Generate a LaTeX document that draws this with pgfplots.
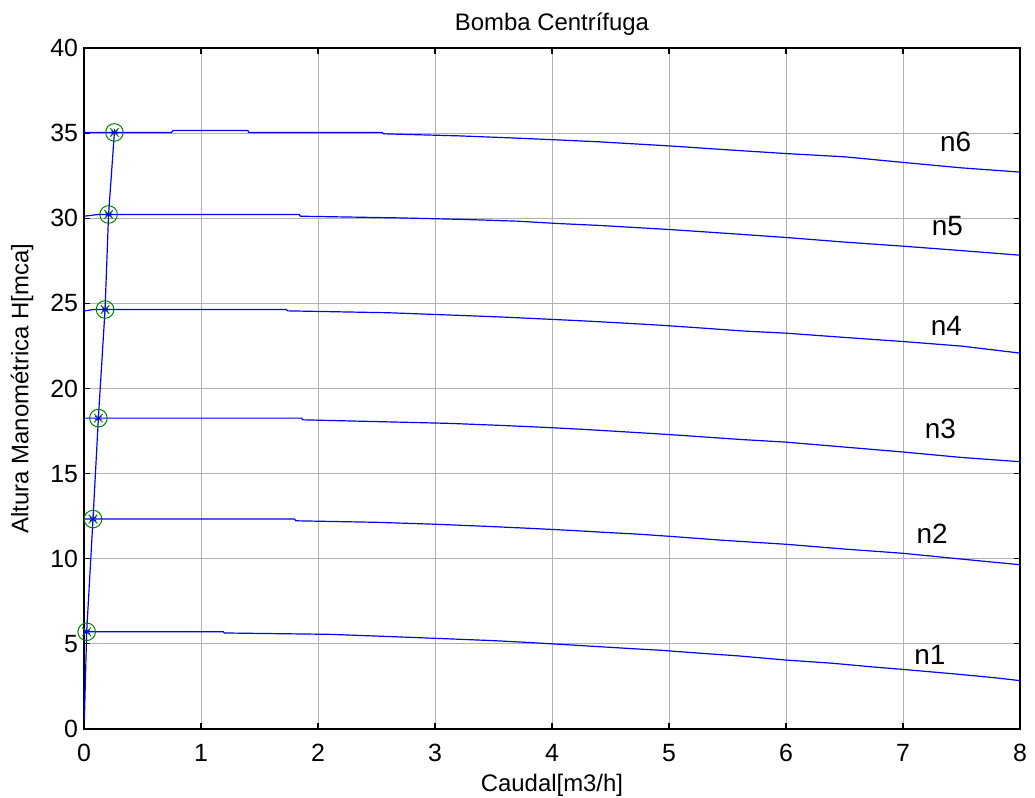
\documentclass[border=0pt]{standalone}
\usepackage{pgfplots}
\pgfplotsset{compat=1.18}
\usepackage{fontspec}
\setmainfont{Liberation Sans}

\definecolor{mgreen}{rgb}{0,0.5,0}

\begin{document}
\begin{tikzpicture}
\useasboundingbox (-42bp,-34.5bp) rectangle (475.5bp,364.5bp);
\begin{axis}[
    at={(0,0)}, anchor=south west,
    scale only axis,
    width=468bp, height=340.5bp,
    xmin=0, xmax=8, ymin=0, ymax=40,
    xtick={0,...,8}, ytick={0,5,...,40},
    grid=major,
    major grid style={gray!60, line width=0.4pt},
    axis line style={black, line width=0.7pt},
    tick align=inside,
    major tick length=3bp,
    tick style={black, line width=0.6pt},
    font=\fontsize{12}{14}\selectfont,
    /pgf/number format/assume math mode=true,
    ticklabel style={font=\fontsize{12.5}{14}\selectfont},
    xticklabel style={yshift=-4bp},
    yticklabel style={xshift=0.5bp},
    xlabel={Caudal[m3/h]},
    xlabel style={at={(axis description cs:0.5,-0.0822)}, anchor=center},
    ylabel={Altura Manométrica H[mca]},
    ylabel style={at={(axis description cs:-0.0662,0.5)}, anchor=center},
]

% n1
\addplot[blue, line width=0.6pt] coordinates {
(0,5.71) (1.19,5.71) (1.2,5.64) (2.1,5.56) (2.65,5.42) (3.1,5.30) (3.5,5.19)
(3.83,5.07) (4.13,4.95) (4.68,4.72) (4.94,4.62) (5.17,4.50) (5.6,4.29)
(6.0,4.05) (6.4,3.86) (6.75,3.64) (7.0,3.50) (7.45,3.23) (7.8,3.00) (8.0,2.84)};

% n2
\addplot[blue, line width=0.6pt] coordinates {
(0,12.33) (1.8,12.33) (1.81,12.23) (2.5,12.14) (3.03,12.02) (3.45,11.90)
(3.8,11.79) (4.15,11.67) (4.45,11.55) (4.75,11.44) (5.0,11.32) (5.47,11.08)
(6.0,10.85) (6.5,10.57) (7.0,10.32) (7.5,9.98) (8.0,9.65)};

% n3
\addplot[blue, line width=0.6pt] coordinates {
(0,18.26) (1.86,18.26) (1.87,18.16) (2.6,18.04) (3.13,17.95) (3.57,17.83)
(3.93,17.72) (4.27,17.60) (4.85,17.36) (5.1,17.25) (5.6,17.01) (6.0,16.85)
(6.5,16.56) (7.0,16.27) (7.5,15.95) (8.0,15.70)};

% n4
\addplot[blue, line width=0.6pt] coordinates {
(0,24.55) (0.08,24.64) (1.73,24.64) (1.74,24.56) (2.6,24.45) (3.15,24.31)
(3.6,24.19) (3.97,24.07) (4.3,23.96) (4.62,23.84) (4.92,23.72) (5.18,23.60)
(5.65,23.37) (6.0,23.25) (6.5,23.00) (7.0,22.76) (7.5,22.49) (8.0,22.08)};

% n5
\addplot[blue, line width=0.6pt] coordinates {
(0,30.12) (0.12,30.22) (1.84,30.22) (1.85,30.12) (2.7,30.02) (3.25,29.93)
(3.7,29.83) (4.05,29.69) (4.4,29.58) (4.7,29.46) (5.0,29.34) (5.5,29.11)
(6.0,28.87) (6.5,28.60) (7.0,28.36) (7.5,28.10) (8.0,27.83)};

% n6
\addplot[blue, line width=0.6pt] coordinates {
(0,35.04) (0.75,35.04) (0.76,35.15) (1.4,35.15) (1.41,35.04) (2.55,35.04)
(2.56,34.96) (3.2,34.84) (3.65,34.72) (4.05,34.60) (4.4,34.49) (5.0,34.25)
(5.5,34.02) (6.0,33.80) (6.5,33.61) (7.0,33.28) (7.5,32.96) (8.0,32.71)};

% curva de operacion
\addplot[blue, line width=0.6pt] coordinates {
(0.003,0.5) (0.023,5.71) (0.077,12.33) (0.123,18.26) (0.18,24.64)
(0.21,30.22) (0.26,35.04)};

% puntos de operacion
\addplot[only marks, mark=o, mark size=4.4bp, mgreen, mark options={line width=0.5pt}] coordinates {
(0.023,5.71) (0.077,12.33) (0.123,18.26) (0.18,24.64) (0.21,30.22) (0.26,35.04)};
\addplot[only marks, mark=x, mark size=3bp, mgreen, mark options={line width=0.5pt}] coordinates {
(0.023,5.71) (0.077,12.33) (0.123,18.26) (0.18,24.64) (0.21,30.22) (0.26,35.04)};
\addplot[only marks, mark=asterisk, mark size=1.8bp, blue, mark options={line width=0.4pt}] coordinates {
(0.023,5.71) (0.077,12.33) (0.123,18.26) (0.18,24.64) (0.21,30.22) (0.26,35.04)};

\node[font=\fontsize{14}{16}\selectfont] at (axis cs:7.45,34.47) {n6};
\node[font=\fontsize{14}{16}\selectfont] at (axis cs:7.38,29.57) {n5};
\node[font=\fontsize{14}{16}\selectfont] at (axis cs:7.37,23.66) {n4};
\node[font=\fontsize{14}{16}\selectfont] at (axis cs:7.32,17.60) {n3};
\node[font=\fontsize{14}{16}\selectfont] at (axis cs:7.25,11.48) {n2};
\node[font=\fontsize{14}{16}\selectfont] at (axis cs:7.23,4.37) {n1};
\end{axis}
\node[font=\fontsize{12}{14}\selectfont, anchor=center] at ([yshift=12bp]current axis.north) {Bomba Centrífuga};
\end{tikzpicture}
\end{document}
